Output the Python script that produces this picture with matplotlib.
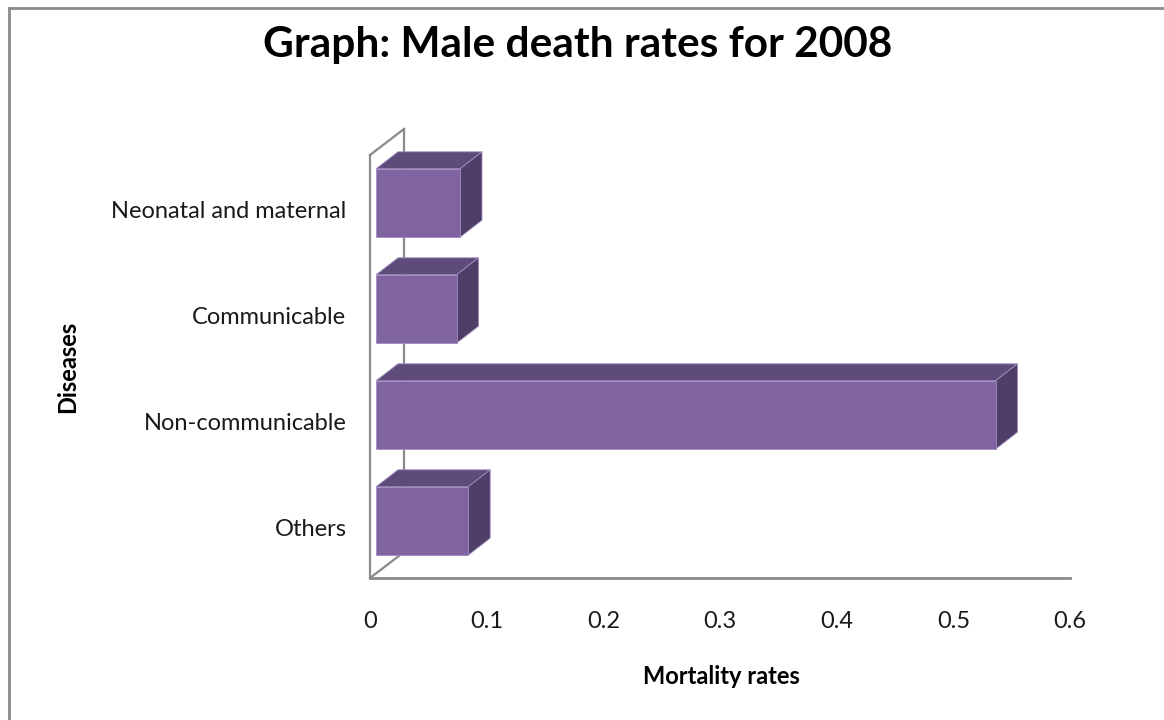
import matplotlib
matplotlib.use("Agg")
import matplotlib.pyplot as plt
from matplotlib.patches import Polygon, Rectangle
from matplotlib.lines import Line2D
import numpy as np

# ── Data ─────────────────────────────────────────────────────────────
categories = ["Others", "Non-communicable", "Communicable", "Neonatal and maternal"]
mortality = [0.079, 0.531, 0.069, 0.072]
x_ticks = [0, 0.1, 0.2, 0.3, 0.4, 0.5, 0.6]
x_tick_labels = ["0", "0.1", "0.2", "0.3", "0.4", "0.5", "0.6"]

title = "Graph: Male death rates for 2008"
x_title = "Mortality rates"
y_title = "Diseases"

# ── Style ────────────────────────────────────────────────────────────
plt.rcParams["font.family"] = ["Lato", "DejaVu Sans"]
FRONT = "#8064a2"
TOP = "#5f4b7b"
SIDE = "#4f3f68"
EDGE = "#a08cc0"
WALL = "#8a8a8a"
LABEL_SIZE = 17

W, H = 1164, 720
fig = plt.figure(figsize=(W / 100, H / 100), dpi=100)

# plot area in pixels: x 370..1070, y 128..578 (from top)
L, R, T, B = 370, 1070, 128, 578
ax = fig.add_axes([L / W, 1 - B / H, (R - L) / W, (B - T) / H])

PX_Y = 106.0                   # pixels per category step
xmin, xmax = 0, 0.6
px_x = (xmax - xmin) / (R - L)  # data units per pixel (x)
px_y = 1 / PX_Y                 # data units per pixel (y)
floor = -(578 - 521) / PX_Y
ax.set_xlim(xmin, xmax)
ax.set_ylim(floor, floor + (B - T) / PX_Y)

# depth offsets
wall_dx, wall_dy = 34 * px_x, 26 * px_y
bar_dx, bar_dy = 22 * px_x, 17 * px_y
front_dx = 6 * px_x
bar_h = 0.645
wall_top = floor + (578 - 155) * px_y

# walls
lw = 1.6
ax.plot([0, 0], [floor, wall_top], color=WALL, lw=lw, clip_on=False, zorder=1)
ax.plot([0, wall_dx], [wall_top, wall_top + wall_dy], color=WALL, lw=lw, clip_on=False, zorder=1)
ax.plot([wall_dx, wall_dx], [wall_top + wall_dy, floor + wall_dy], color=WALL, lw=lw, clip_on=False, zorder=1)
ax.plot([0, wall_dx], [floor, floor + wall_dy], color=WALL, lw=lw, clip_on=False, zorder=1)
ax.plot([0, xmax], [floor, floor], color=WALL, lw=2.0, clip_on=False, zorder=1)

# 3D bars
for i, v in enumerate(mortality):
    y0, y1 = i - bar_h / 2, i + bar_h / 2
    x0, x1 = front_dx, front_dx + v
    top = Polygon([(x0, y1), (x1, y1), (x1 + bar_dx, y1 + bar_dy), (x0 + bar_dx, y1 + bar_dy)],
                  closed=True, facecolor=TOP, edgecolor=EDGE, lw=0.6, zorder=3, clip_on=False)
    side = Polygon([(x1, y0), (x1 + bar_dx, y0 + bar_dy), (x1 + bar_dx, y1 + bar_dy), (x1, y1)],
                   closed=True, facecolor=SIDE, edgecolor=EDGE, lw=0.6, zorder=3, clip_on=False)
    front = Rectangle((x0, y0), v, bar_h, facecolor=FRONT, edgecolor=EDGE, lw=0.6, zorder=4, clip_on=False)
    ax.add_patch(top)
    ax.add_patch(side)
    ax.add_patch(front)

# ticks
ax.set_yticks(np.arange(len(categories)) - 7 * px_y)
ax.set_yticklabels(categories, fontsize=LABEL_SIZE, color="#1a1a1a")
ax.set_xticks(x_ticks)
ax.set_xticklabels(x_tick_labels, fontsize=LABEL_SIZE, color="#1a1a1a")
ax.tick_params(axis="y", length=0, pad=17)
ax.tick_params(axis="x", length=0, pad=24)
for s in ax.spines.values():
    s.set_visible(False)
ax.patch.set_visible(False)

# titles
fig.text(578 / W, 1 - 45 / H, title, ha="center", va="center", fontsize=30.5, fontweight="bold")
fig.text(721 / W, 1 - 676 / H, x_title, ha="center", va="center", fontsize=LABEL_SIZE, fontweight="bold")
fig.text(68 / W, 1 - 367 / H, y_title, ha="center", va="center", rotation=90, fontsize=LABEL_SIZE, fontweight="bold")

# chart border (only the left and top edges show)
fig.add_artist(Line2D([8.5 / W, 8.5 / W], [0, 1 - 8 / H], transform=fig.transFigure, color=WALL, lw=2))
fig.add_artist(Line2D([8.5 / W, 1], [1 - 8 / H, 1 - 8 / H], transform=fig.transFigure, color=WALL, lw=2))

fig.savefig("out.png", dpi=100)
